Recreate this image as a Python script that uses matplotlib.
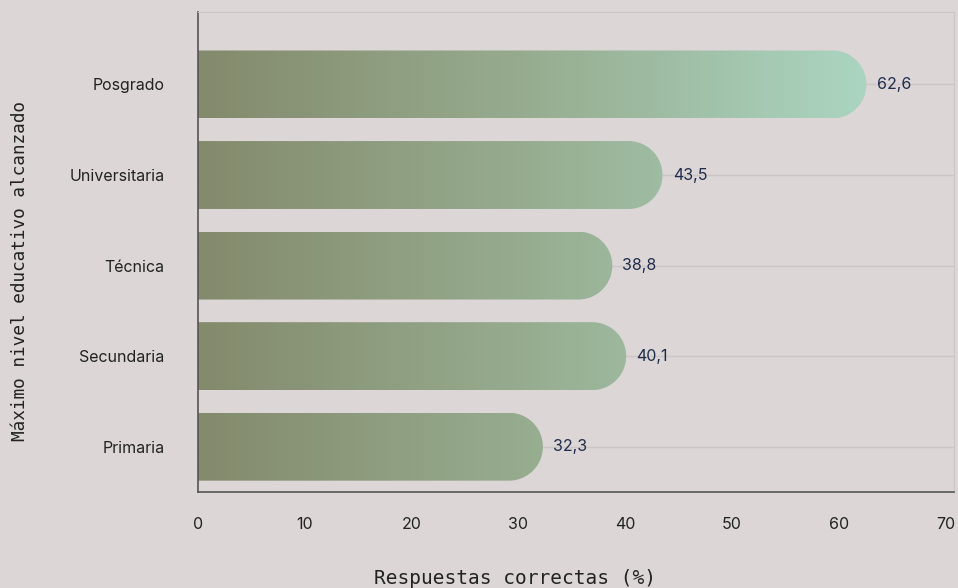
import numpy as np
import matplotlib
matplotlib.use("Agg")
import matplotlib.pyplot as plt
from matplotlib.path import Path
from matplotlib.patches import PathPatch
from matplotlib.colors import LinearSegmentedColormap

categories = ["Primaria", "Secundaria", "Técnica", "Universitaria", "Posgrado"]
values = [32.3, 40.1, 38.8, 43.5, 62.6]
value_labels = ["32,3", "40,1", "38,8", "43,5", "62,6"]
xticks = [0, 10, 20, 30, 40, 50, 60, 70]

bg = "#dcd6d6"
grad = LinearSegmentedColormap.from_list("g", ["#848a6c", "#97ad90", "#abd5c1"])

fig = plt.figure(figsize=(9.58, 5.88), dpi=100, facecolor=bg)
ax = fig.add_axes([0.2067, 0.1633, 0.7891, 0.8163])
ax.set_facecolor(bg)

xmax = 70.8
ylo, yhi = -0.5, 4.8
ax.set_xlim(0, xmax)
ax.set_ylim(ylo, yhi)

# radius of rounded end, in data units
bar_h = 0.75
fig.canvas.draw()
bb = ax.get_window_extent()
px_per_x = bb.width / xmax
px_per_y = bb.height / (yhi - ylo)
rx = (bar_h / 2) * px_per_y / px_per_x

ys = np.arange(len(categories))
for yc in ys:
    ax.axhline(yc, color="#ccc6c6", lw=1, zorder=0)

vmax = max(values)
gimg = np.linspace(0, 1, 512).reshape(1, -1)
for yc, v, lab in zip(ys, values, value_labels):
    y0, y1 = yc - bar_h / 2, yc + bar_h / 2
    cx = v - rx
    th = np.linspace(-np.pi / 2, np.pi / 2, 60)
    arc = np.column_stack([cx + rx * np.cos(th), yc + (bar_h / 2) * np.sin(th)])
    verts = np.vstack([[[-2, y0], [cx, y0]], arc, [[-2, y1], [-2, y0]]])
    codes = [Path.MOVETO] + [Path.LINETO] * (len(verts) - 2) + [Path.CLOSEPOLY]
    patch = PathPatch(Path(verts, codes), facecolor="none", edgecolor="none", transform=ax.transData)
    ax.add_patch(patch)
    im = ax.imshow(gimg, cmap=grad, extent=[0, vmax, y0, y1], aspect="auto", zorder=2,
                   interpolation="bilinear")
    im.set_clip_path(patch)
    ax.text(v + 0.95, yc, lab, va="center", ha="left", fontsize=11.5, color="#1f2c4c",
            family="Inter", zorder=3)

ax.set_xlim(0, xmax)
ax.set_ylim(ylo, yhi)

ax.set_yticks(ys)
ax.set_yticklabels(categories, family="Inter", fontsize=11.5, color="#222222")
ax.set_xticks(xticks)
ax.set_xticklabels([str(t) for t in xticks], family="Inter", fontsize=11.5, color="#222222")
ax.tick_params(axis="y", length=0, pad=24)
ax.tick_params(axis="x", length=0, pad=18)

for s in ["top", "right"]:
    ax.spines[s].set_color("#ccc6c6")
for s in ["left", "bottom"]:
    ax.spines[s].set_color("#555555")
    ax.spines[s].set_linewidth(1.2)

fig.text(515 / 958, 1 - 578 / 588, "Respuestas correctas (%)", family="DejaVu Sans Mono",
         fontsize=14, color="#222222", ha="center", va="center")
fig.text(20 / 958, 1 - 271 / 588, "Máximo nivel educativo alcanzado", family="DejaVu Sans Mono",
         fontsize=12.8, color="#222222", ha="center", va="center", rotation=90)

fig.savefig("out.png", dpi=100, facecolor=bg)
